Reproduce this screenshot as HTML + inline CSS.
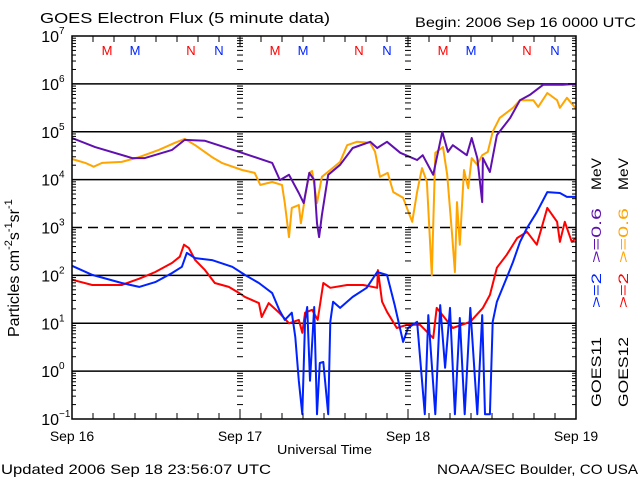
<!DOCTYPE html>
<html><head><meta charset="utf-8"><style>
html,body{margin:0;padding:0;background:#fff;}
svg{display:block;font-family:"Liberation Sans",sans-serif;}
</style></head><body>
<svg id="chart" width="640" height="480" viewBox="0 0 640 480" xmlns="http://www.w3.org/2000/svg">
<rect width="640" height="480" fill="#fff"/>
<text x="40" y="23" font-size="15" textLength="290" lengthAdjust="spacingAndGlyphs">GOES Electron Flux (5 minute data)</text>
<text x="415" y="27" font-size="14" textLength="221" lengthAdjust="spacingAndGlyphs">Begin: 2006 Sep 16 0000 UTC</text>
<text x="1" y="474" font-size="14" textLength="270" lengthAdjust="spacingAndGlyphs">Updated 2006 Sep 18 23:56:07 UTC</text>
<text x="437" y="474" font-size="14" textLength="201" lengthAdjust="spacingAndGlyphs">NOAA/SEC Boulder, CO USA</text>
<text x="277" y="454" font-size="13" textLength="95" lengthAdjust="spacingAndGlyphs">Universal Time</text>
<text transform="translate(19,337) rotate(-90)" font-size="16">Particles cm<tspan dy="-7" font-size="11">-2</tspan><tspan dy="7">s</tspan><tspan dy="-7" font-size="11">-1</tspan><tspan dy="7">sr</tspan><tspan dy="-7" font-size="11">-1</tspan></text>
<g id="legend" font-size="14">
<text transform="translate(601,407) rotate(-90)" textLength="70" lengthAdjust="spacingAndGlyphs">GOES11</text>
<text fill="#0022ff" transform="translate(601,308) rotate(-90)" textLength="35" lengthAdjust="spacingAndGlyphs">&gt;=2</text>
<text fill="#6010b0" transform="translate(601,263) rotate(-90)" textLength="55" lengthAdjust="spacingAndGlyphs">&gt;=0.6</text>
<text transform="translate(601,190) rotate(-90)" textLength="32" lengthAdjust="spacingAndGlyphs">MeV</text>
<text transform="translate(628,407) rotate(-90)" textLength="70" lengthAdjust="spacingAndGlyphs">GOES12</text>
<text fill="#ff0000" transform="translate(628,308) rotate(-90)" textLength="35" lengthAdjust="spacingAndGlyphs">&gt;=2</text>
<text fill="#ffa500" transform="translate(628,263) rotate(-90)" textLength="55" lengthAdjust="spacingAndGlyphs">&gt;=0.6</text>
<text transform="translate(628,190) rotate(-90)" textLength="32" lengthAdjust="spacingAndGlyphs">MeV</text>
</g>
<g id="grid"></g>
<g id="series"></g>
<g id="axes"></g>
</svg>
<script>
// ---- data (time in hours since 2006 Sep 16 00:00, values log10 flux) ----
const dayLabels = ["Sep 16","Sep 17","Sep 18","Sep 19"];
const yTickExps = [-1,0,1,2,3,4,5,6,7];
const markerLetters = ["M","M","N","N"];
const markerHours = [5,9,17,21];
const purpleT = [0,3.3,8.6,10.4,14.3,16.1,19.0,23.9,28.6,29.7,31.0,32.4,33.1,33.9,34.6,35.0,35.3,35.7,36.6,38.3,40.1,42.6,43.6,45.0,46.9,49.3,50.1,51.6,52.9,53.7,54.4,56.4,57.1,57.9,58.6,58.7,59.7,60.7,62.6,64.0,65.4,67.3,70.1,72];
const purpleV = [4.87,4.68,4.45,4.45,4.62,4.83,4.81,4.58,4.35,3.99,4.10,3.72,3.51,4.14,3.99,3.09,2.80,3.26,4.10,4.31,4.66,4.79,4.66,4.79,4.56,4.41,4.51,4.10,5.0,4.58,4.72,4.51,4.87,4.45,3.53,4.45,4.16,4.93,5.29,5.66,5.77,5.98,5.98,6.0];
const orangeT = [0,1.9,3.1,4.3,7.1,9.6,12.4,14.7,16.1,17.6,20.0,21.4,24.3,26.1,26.9,28.6,30.0,30.4,31.0,31.4,32.4,32.7,33.3,33.9,34.3,35.0,35.7,36.9,38.3,39.3,40.7,42.6,43.3,44.0,45.1,45.9,47.3,48.6,49.3,50.0,50.7,51.4,51.9,53.0,53.6,54.3,54.7,55.0,55.4,56.0,56.6,57.1,57.9,58.6,59.4,60.1,61.1,63.0,64.0,65.9,66.6,67.9,69.3,69.7,70.7,71.9];
const orangeV = [4.43,4.35,4.27,4.35,4.37,4.47,4.62,4.77,4.85,4.72,4.47,4.35,4.20,4.14,3.89,3.95,3.89,3.51,2.80,3.41,3.47,3.09,3.64,4.14,4.18,3.51,4.06,4.20,4.37,4.72,4.79,4.77,4.58,4.06,4.14,3.74,3.62,3.12,3.74,4.24,3.95,2.0,4.56,4.68,4.10,2.85,2.07,3.53,2.64,4.20,3.82,4.45,4.31,4.51,4.58,5.0,5.29,5.50,5.66,5.66,5.52,5.81,5.66,5.50,5.71,5.50];
const blueT = [0,2.9,7.1,9.6,11.9,14.3,15.7,16.4,17.6,20.0,22.9,24.7,26.7,28.6,29.6,30.4,31.4,31.9,32.4,32.9,33.3,33.6,34.0,34.6,35.0,35.4,35.9,36.6,36.9,37.3,38.3,40.1,42.1,43.6,45.0,46.1,47.3,48.0,49.3,50.4,50.9,51.9,52.6,53.3,54.0,54.7,55.4,56.1,56.9,57.9,58.6,59.0,59.7,60.1,60.7,62.1,63.0,64.0,65.0,66.4,67.9,69.7,70.7,72];
const blueV = [2.20,2.01,1.84,1.76,1.86,2.05,2.18,2.47,2.36,2.32,2.18,2.01,1.84,1.63,1.28,1.07,1.22,0.71,-0.2,-0.9,1.07,1.34,-0.2,1.34,-0.9,0.17,0.19,-0.9,1.03,1.45,1.32,1.55,1.74,2.07,2.01,1.38,0.61,0.9,1.03,-0.9,1.17,-0.9,1.38,0.07,1.32,-0.9,1.11,-0.9,1.32,-0.9,1.17,-0.9,-0.9,1.03,1.45,1.95,2.28,2.70,2.99,3.32,3.74,3.72,3.64,3.64];
const redT = [0,2.9,7.1,9.6,11.9,14.3,15.4,16.0,16.7,17.6,19.0,20.4,22.4,23.9,24.7,26.7,27.1,28.1,29.6,31.0,32.4,32.9,33.3,34.3,35.1,35.9,36.9,39.3,41.6,43.6,43.7,44.3,45.0,46.4,47.9,49.7,51.6,52.1,54.4,56.9,58.7,59.7,60.7,62.1,63.6,65.0,66.4,67.9,69.3,69.7,70.4,71.4,72];
const redV = [1.91,1.80,1.80,1.93,2.07,2.26,2.39,2.64,2.57,2.32,2.11,1.84,1.76,1.63,1.55,1.42,1.13,1.42,1.22,1.0,1.07,0.80,1.22,1.28,1.07,1.84,1.74,1.80,1.80,1.74,2.11,1.45,1.24,0.90,0.97,0.97,0.69,1.32,0.90,1.03,1.32,1.59,2.16,2.43,2.78,2.91,2.64,3.41,3.12,2.70,3.12,2.70,2.78];

const L=72,R=576,T=36,B=419,HOURS=72,YMIN=-1,YMAX=7;
const NS="http://www.w3.org/2000/svg";
function xS(h){return L+(h/HOURS)*(R-L);}
function yS(v){return T+(YMAX-v)/(YMAX-YMIN)*(B-T);}
function mk(tag,attrs,parent){const e=document.createElementNS(NS,tag);for(const k in attrs)e.setAttribute(k,attrs[k]);parent.appendChild(e);return e;}
const grid=document.getElementById('grid'),axes=document.getElementById('axes'),ser=document.getElementById('series');

yTickExps.forEach(function(ex){
  if(ex===YMIN||ex===YMAX)return;
  const g=mk('line',{x1:L,x2:R,y1:yS(ex),y2:yS(ex),stroke:'#000','stroke-width':1.5},grid);
  if(ex===3)g.setAttribute('stroke-dasharray','10,6');
  
  
});

function drawSeries(ts,vs,color,name){
  let d='';
  for(let i=0;i<ts.length;i++){
    const x=xS(ts[i]),y=Math.min(B,yS(vs[i]));
    d+=(i===0?'M':'L')+x.toFixed(1)+','+y.toFixed(1);
  }
  const p=mk('path',{d:d,fill:'none',stroke:color,'stroke-width':2,'stroke-linejoin':'round'},ser);
  
  
}
drawSeries(orangeT,orangeV,'#ffa500','series-goes12-ge06');
drawSeries(purpleT,purpleV,'#6010b0','series-goes11-ge06');
drawSeries(redT,redV,'#ff0000','series-goes12-ge2');
drawSeries(blueT,blueV,'#0022ff','series-goes11-ge2');

const fr=mk('rect',{x:L,y:T,width:R-L,height:B-T,fill:'none',stroke:'#000','stroke-width':1.5},axes);



function yTicksAt(x,dir,len,minLen){
  for(let e=YMIN;e<YMAX;e++){
    for(let m=1;m<10;m++){
      const y=yS(e+Math.log10(m));
      const l=(m===1)?len:minLen;
      if(dir===0)mk('line',{x1:x-l/2,x2:x+l/2,y1:y,y2:y,stroke:'#000','stroke-width':1},axes);
      else mk('line',{x1:x,x2:x+dir*l,y1:y,y2:y,stroke:'#000','stroke-width':1},axes);
    }
  }
}
yTicksAt(L,1,8,4);
yTicksAt(R,-1,8,4);
yTicksAt(xS(24),0,6,6);
yTicksAt(xS(48),0,6,6);

yTickExps.forEach(function(ex){
  const y=yS(ex);
  const t=mk('text',{x:59,y:y+6,'font-size':16,'text-anchor':'end'},axes);
  t.textContent='10';
  
  
  const s=mk('text',{x:59,y:y-2,'font-size':10,'text-anchor':'start'},axes);
  s.textContent=String(ex).replace('-','\u2212');
  
  
});

for(let h=0;h<=HOURS;h+=3){
  const x=xS(h);
  const len=(h%24===0)?10:6;
  mk('line',{x1:x,x2:x,y1:B,y2:B-len,stroke:'#000','stroke-width':1},axes);
  mk('line',{x1:x,x2:x,y1:T,y2:T+len,stroke:'#000','stroke-width':1},axes);
}
dayLabels.forEach(function(lab,i){
  const t=mk('text',{x:xS(i*24),y:441,'font-size':14,'text-anchor':'middle'},axes);
  t.textContent=lab;
  
  
});

for(let d=0;d<3;d++){
  markerLetters.forEach(function(ch,i){
    const t=mk('text',{x:xS(d*24+markerHours[i]),y:55,'font-size':13,'text-anchor':'middle',fill:(i%2===0)?'#ff0000':'#0022ff'},axes);
    t.textContent=ch;
    
    
  });
}
</script>
</body></html>
